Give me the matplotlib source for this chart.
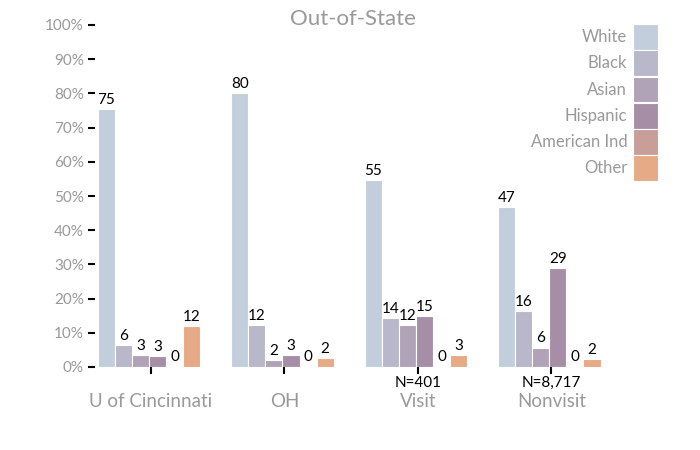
import numpy as np
import matplotlib
matplotlib.use("Agg")
import matplotlib.pyplot as plt

plt.rcParams['font.family'] = ['Lato', 'DejaVu Sans']

# 数据
groups = ["U of Cincinnati", "OH", "Visit", "Nonvisit"]
n_labels = ["", "", "N=401", "N=8,717"]
races = ["White", "Black", "Asian", "Hispanic", "American Ind", "Other"]
colors = ["#c3cedd", "#b9b8ca", "#b1a3b7", "#a68fa6", "#c89e98", "#e6aa86"]

white = [75.4, 80.1, 54.8, 46.8]
black = [6.4, 12.3, 14.4, 16.4]
asian = [3.4, 2.0, 12.4, 5.7]
hispanic = [3.2, 3.4, 14.9, 29.0]
amind = [0.4, 0.4, 0.4, 0.4]
other = [12.1, 2.5, 3.4, 2.4]


def main():
    series = [white, black, asian, hispanic, amind, other]

    fig = plt.figure(figsize=(7, 4.5), dpi=100)
    ax = fig.add_axes([95 / 700, 1 - 367 / 450, 515 / 700, 342 / 450])

    x = np.arange(len(groups))
    w = 0.128
    for i, (vals, name, c) in enumerate(zip(series, races, colors)):
        pos = x + (i - 2.5) * w - 0.015
        bars = ax.bar(pos, vals, width=w, color=c, edgecolor="white",
                      linewidth=0.8, label=name)
        for b, v in zip(bars, vals):
            ax.text(b.get_x() + b.get_width() / 2, v + 0.6, str(int(round(v))),
                    ha="center", va="bottom", fontsize=11, color="black")

    ax.set_xlim(-0.42, 3.44)
    ax.set_ylim(0, 100)
    ax.set_yticks(np.arange(0, 101, 10))
    ax.set_yticklabels([f"{v}%" for v in range(0, 101, 10)], color="#999999",
                       fontsize=11)
    ax.tick_params(axis="y", length=5, width=1.5, color="black", pad=3)

    ax.set_xticks(x)
    ax.set_xticklabels([""] * len(groups))
    ax.tick_params(axis="x", length=5, width=1.5, color="black")
    for xi, g, n in zip(x, groups, n_labels):
        if n:
            ax.text(xi, -2.5, n, ha="center", va="top", fontsize=11,
                    color="black")
        ax.text(xi, -7.5, g, ha="center", va="top", fontsize=13.5,
                color="#999999")

    for s in ax.spines.values():
        s.set_visible(False)

    ax.set_title("Out-of-State", color="#999999", fontsize=16, pad=0,
                 y=1.0)

    leg = fig.legend(loc="upper right", bbox_to_anchor=(658 / 700, 1 - 24 / 450),
                     frameon=False, markerfirst=False, fontsize=12,
                     handlelength=1.5, handleheight=2.0, labelspacing=0.03,
                     handletextpad=0.35, borderpad=0, borderaxespad=0)
    for t in leg.get_texts():
        t.set_color("#999999")

    fig.savefig("out.png", dpi=100)


if __name__ == "__main__":
    main()
